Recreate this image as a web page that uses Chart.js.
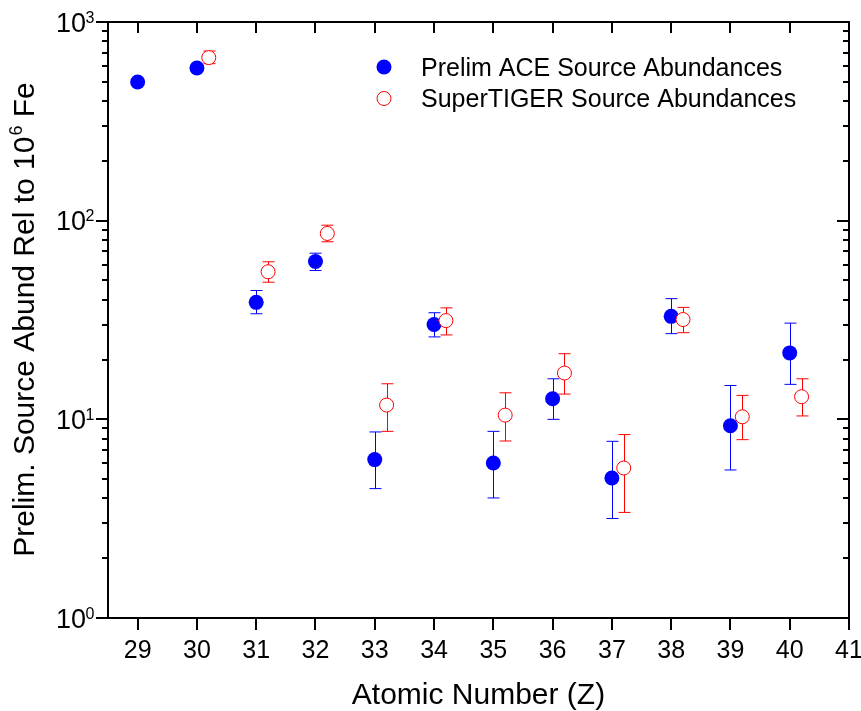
<!DOCTYPE html>
<html>
<head>
<meta charset="utf-8">
<script src="https://cdn.jsdelivr.net/npm/chart.js@4.4.1/dist/chart.umd.min.js"></script>
<style>
  html, body { margin: 0; padding: 0; background: #fff; }
  #wrap { width: 861px; height: 711px; }
</style>
</head>
<body>
<div id="wrap"><canvas id="c" width="861" height="711"></canvas></div>
<script>
const FONT = '"Liberation Sans", Arial, Helvetica, sans-serif';

// ---- data ----
const seriesNames = ['Prelim ACE Source Abundances', 'SuperTIGER Source Abundances'];

const aceZ    = [29, 30, 31, 32, 33, 34, 35, 36, 37, 38, 39, 40];
const aceVal  = [499, 587, 38.8, 62.3, 6.27, 30.0, 6.03, 12.7, 5.07, 33.0, 9.29, 21.6];
const aceHigh = [null, null, 44.5, 68.6, 8.64, 34.4, 8.7, 16.0, 7.75, 40.5, 14.8, 30.5];
const aceLow  = [null, null, 34.0, 56.1, 4.48, 26.0, 4.02, 10.0, 3.17, 27.0, 5.56, 15.0];

const tigerZ    = [30.2, 31.2, 32.2, 33.2, 34.2, 35.2, 36.2, 37.2, 38.2, 39.2, 40.2];
const tigerVal  = [662, 55.3, 86.2, 11.8, 31.4, 10.5, 17.1, 5.69, 31.8, 10.3, 13.0];
const tigerHigh = [714, 62.1, 94.9, 15.1, 36.4, 13.6, 21.4, 8.38, 36.6, 13.2, 16.0];
const tigerLow  = [617, 49.0, 78.3, 8.7, 26.6, 7.78, 13.4, 3.40, 27.3, 7.9, 10.4];

const xTicks = [29, 30, 31, 32, 33, 34, 35, 36, 37, 38, 39, 40, 41];
const yMajor = [1, 10, 100, 1000];
const yMinorMult = [2, 3, 4, 5, 6, 7, 8, 9];

const xTitle = 'Atomic Number (Z)';
const yTitleParts = ['Prelim. Source Abund Rel to 10', '6', ' Fe'];

const BLUE = '#0000ff';
const RED = '#ff0000';

// ---- helpers ----
function drawErrorBars(ctx, xs, ys, zs, lo, hi, color) {
  ctx.save();
  ctx.strokeStyle = color;
  ctx.lineWidth = 1;
  for (let i = 0; i < zs.length; i++) {
    if (lo[i] == null || hi[i] == null) continue;
    const x = Math.round(xs.getPixelForValue(zs[i])) + 0.5;
    const y1 = ys.getPixelForValue(hi[i]);
    const y2 = ys.getPixelForValue(lo[i]);
    ctx.beginPath();
    ctx.moveTo(x, y1); ctx.lineTo(x, y2);
    ctx.moveTo(x - 6, y1); ctx.lineTo(x + 6, y1);
    ctx.moveTo(x - 6, y2); ctx.lineTo(x + 6, y2);
    ctx.stroke();
  }
  ctx.restore();
}

const decorPlugin = {
  id: 'decor',
  beforeDatasetsDraw(chart) {
    const ctx = chart.ctx;
    const xs = chart.scales.x, ys = chart.scales.y;
    drawErrorBars(ctx, xs, ys, aceZ, aceLow, aceHigh, BLUE);
    drawErrorBars(ctx, xs, ys, tigerZ, tigerLow, tigerHigh, RED);
  },
  afterDraw(chart) {
    const ctx = chart.ctx;
    const a = chart.chartArea;
    const xs = chart.scales.x, ys = chart.scales.y;
    ctx.save();
    ctx.strokeStyle = '#000';
    ctx.lineWidth = 2;
    ctx.strokeRect(a.left, a.top, a.right - a.left, a.bottom - a.top);

    // x ticks: outward at bottom, inward at top
    ctx.beginPath();
    xTicks.forEach(v => {
      const x = Math.round(xs.getPixelForValue(v));
      ctx.moveTo(x, a.bottom); ctx.lineTo(x, a.bottom + 12);
      ctx.moveTo(x, a.top); ctx.lineTo(x, a.top + 11);
    });
    // y ticks: outward at left, inward at right
    yMajor.forEach((m, k) => {
      const y = Math.round(ys.getPixelForValue(m));
      ctx.moveTo(a.left - 12, y); ctx.lineTo(a.left, y);
      ctx.moveTo(a.right - 12, y); ctx.lineTo(a.right, y);
      if (k < yMajor.length - 1) {
        yMinorMult.forEach(f => {
          const yy = Math.round(ys.getPixelForValue(m * f));
          ctx.moveTo(a.left - 6, yy); ctx.lineTo(a.left, yy);
          ctx.moveTo(a.right - 6, yy); ctx.lineTo(a.right, yy);
        });
      }
    });
    ctx.stroke();

    // y tick labels 10^n
    ctx.fillStyle = '#000';
    ctx.textBaseline = 'alphabetic';
    yMajor.forEach(m => {
      const y = ys.getPixelForValue(m);
      const e = String(Math.round(Math.log10(m)));
      ctx.font = '27px ' + FONT;
      ctx.textAlign = 'right';
      ctx.fillText('10', a.left - 22, y + 9.5);
      ctx.font = '16px ' + FONT;
      ctx.textAlign = 'left';
      ctx.fillText(e, a.left - 22.5, y + 0.5);
    });

    // x title
    ctx.font = '30px ' + FONT;
    ctx.textAlign = 'center';
    ctx.fillText(xTitle, (a.left + a.right) / 2, 704);

    // y title (rotated, with superscript)
    ctx.save();
    ctx.translate(33.5, (a.top + a.bottom) / 2);
    ctx.rotate(-Math.PI / 2);
    ctx.textAlign = 'left';
    ctx.font = '30px ' + FONT;
    const w0 = ctx.measureText(yTitleParts[0]).width;
    const w2 = ctx.measureText(yTitleParts[2]).width;
    ctx.font = '18px ' + FONT;
    const w1 = ctx.measureText(yTitleParts[1]).width;
    let x0 = -(w0 + w1 + w2) / 2;
    ctx.font = '30px ' + FONT;
    ctx.fillText(yTitleParts[0], x0, 0);
    ctx.font = '18px ' + FONT;
    ctx.fillText(yTitleParts[1], x0 + w0 + 1, -12);
    ctx.font = '30px ' + FONT;
    ctx.fillText(yTitleParts[2], x0 + w0 + w1 + 1, 0);
    ctx.restore();

    // legend
    ctx.beginPath();
    ctx.arc(384, 67, 7.5, 0, Math.PI * 2);
    ctx.fillStyle = BLUE;
    ctx.fill();
    ctx.beginPath();
    ctx.arc(384, 98.5, 7, 0, Math.PI * 2);
    ctx.fillStyle = '#fff';
    ctx.fill();
    ctx.strokeStyle = RED;
    ctx.lineWidth = 1;
    ctx.stroke();
    ctx.fillStyle = '#000';
    ctx.font = '25px ' + FONT;
    ctx.textAlign = 'left';
    ctx.fillText(seriesNames[0], 421, 76);
    ctx.fillText(seriesNames[1], 421, 106.5);
    ctx.restore();
  }
};

new Chart(document.getElementById('c'), {
  type: 'scatter',
  data: {
    datasets: [
      {
        label: seriesNames[1],
        data: tigerZ.map((z, i) => ({ x: z, y: tigerVal[i] })),
        pointRadius: 7,
        pointHoverRadius: 7,
        pointBackgroundColor: '#ffffff',
        pointBorderColor: RED,
        pointBorderWidth: 1
      },
      {
        label: seriesNames[0],
        data: aceZ.map((z, i) => ({ x: z, y: aceVal[i] })),
        pointRadius: 7.5,
        pointHoverRadius: 7.5,
        pointBackgroundColor: BLUE,
        pointBorderColor: BLUE,
        pointBorderWidth: 0
      }
    ]
  },
  options: {
    responsive: false,
    animation: false,
    devicePixelRatio: 1,
    layout: { padding: { left: 0, top: 22, right: 12, bottom: 0 } },
    plugins: {
      legend: { display: false },
      tooltip: { enabled: false }
    },
    scales: {
      x: {
        type: 'linear',
        min: 28.5,
        max: 41,
        afterBuildTicks: s => { s.ticks = xTicks.map(v => ({ value: v })); },
        afterFit: s => { s.height = 93; s.paddingLeft = 0; s.paddingRight = 0; },
        grid: { display: false, drawTicks: true, tickLength: 12 },
        border: { display: false },
        ticks: {
          color: '#000',
          font: { family: FONT, size: 25 },
          padding: 6,
          maxRotation: 0,
          autoSkip: false
        }
      },
      y: {
        type: 'logarithmic',
        min: 1,
        max: 1000,
        afterFit: s => { s.width = 108; s.paddingTop = 0; s.paddingBottom = 0; },
        grid: { display: false },
        border: { display: false },
        ticks: { display: false }
      }
    }
  },
  plugins: [decorPlugin]
});
</script>
</body>
</html>
